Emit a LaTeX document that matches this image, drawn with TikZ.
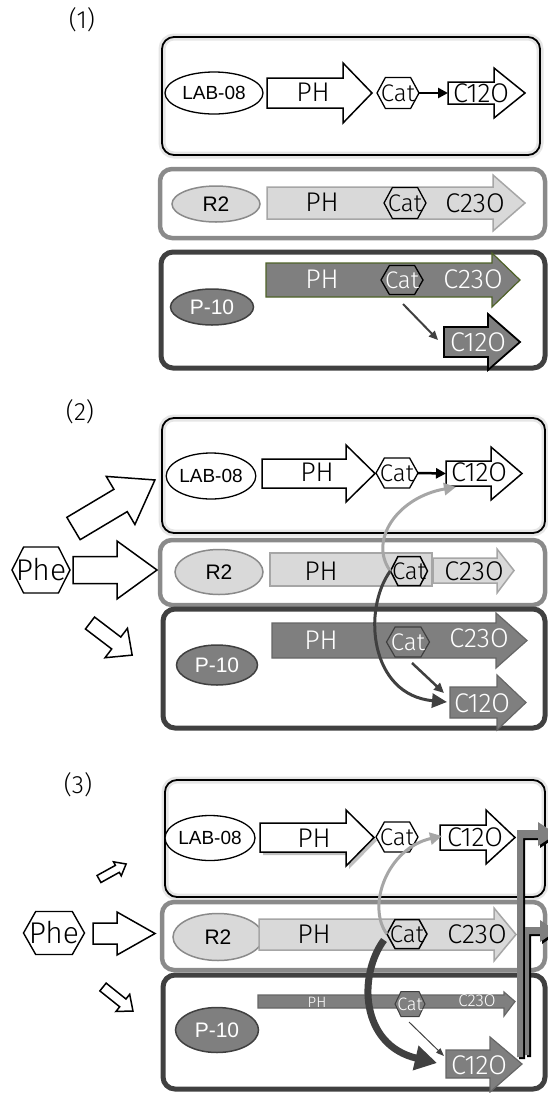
\documentclass[tikz,border=0pt]{standalone}
\usepackage{fontspec}
\newfontfamily\lt{Fira Sans Light}
\newfontfamily\ar{Liberation Sans}
\usetikzlibrary{arrows.meta,shapes.geometric,shadows}
\definecolor{lg}{HTML}{D9D9D9}
\definecolor{mg}{HTML}{A6A6A6}
\definecolor{bg}{HTML}{8A8A8A}
\definecolor{dg}{HTML}{7F7F7F}
\definecolor{vd}{HTML}{404040}
\definecolor{ol}{HTML}{4F6228}
\definecolor{glowc}{HTML}{E6E6E6}
\newcommand{\hexn}[8]{%
 \path[#6] ({#2-#4/2},#3) -- ({#2-0.3*#4},{#3-#5/2}) -- ({#2+0.3*#4},{#3-#5/2}) -- ({#2+#4/2},#3) -- ({#2+0.3*#4},{#3+#5/2}) -- ({#2-0.3*#4},{#3+#5/2}) -- cycle;
 \node[#7, minimum width=#4pt, minimum height=#5pt, inner sep=0pt] (#1) at (#2,#3) {#8};}
\newcommand{\barrow}[8]{%
 \path[#1] (#2,#3) -- (#5,#3) -- (#5,#6) -- (#8,{(#3+#4)/2}) -- (#5,#7) -- (#5,#4) -- (#2,#4) -- cycle;}
\newcommand{\rarrow}[8]{%
 \path[#1, shift={(#2,#3)}, rotate=#4] (0,{-#6/2}) -- ({#5-#8},{-#6/2}) -- ({#5-#8},{-#7/2}) -- (#5,0) -- ({#5-#8},{#7/2}) -- ({#5-#8},{#6/2}) -- (0,{#6/2}) -- cycle;}
\tikzset{
 ptxt/.style={font=\lt\fontsize{25}{25}\selectfont, inner sep=0pt},
 ltxt/.style={font=\lt\fontsize{27}{27}\selectfont, inner sep=0pt},
 ctxt/.style={font=\lt\fontsize{24}{24}\selectfont, inner sep=0pt},
 stxt/.style={font=\lt\fontsize{17}{17}\selectfont, inner sep=0pt, text=white},
 atxt/.style={font=\ar\fontsize{19}{19}\selectfont, inner sep=0pt},
 btxt/.style={font=\ar\fontsize{21}{21}\selectfont, inner sep=0pt},
 labbox/.style={draw=black, line width=1.8, rounded corners=12, preaction={draw=glowc, line width=7}},
 r2box/.style={draw=bg, line width=4.5, rounded corners=12},
 pbox/.style={draw=vd, line width=5, rounded corners=12},
 labell/.style={ellipse, draw=black, line width=1.3, fill=white, inner sep=0pt},
 r2ell/.style={ellipse, draw=bg, line width=1.5, fill=lg, inner sep=0pt},
 pell/.style={ellipse, draw=vd, line width=1.5, fill=dg, inner sep=0pt, text=white},
 wblk/.style={draw=black, fill=white, line width=1.5},
 lblk/.style={draw=mg, fill=lg, line width=1.5},
 dblk/.style={draw=dg!80!black, fill=dg, line width=1.2},
 inarrow/.style={draw=black, fill=white, line width=1.5},
}
\begin{document}
\begin{tikzpicture}[x=1pt,y=-1pt]
\useasboundingbox (0,0) rectangle (548,1093);
%%%%%%%%%%%%%%%% PANEL 1
\node[ptxt] (lbl1) at (82,20) {(1)};
\path[labbox] (162,37) rectangle (540,155);
\path[r2box] (160,169) rectangle (545,238);
\path[pbox] (161,252) rectangle (545,368);
% LAB-08
\node[labell, atxt, minimum width=98pt, minimum height=42pt] (lab1) at (214,93) {LAB-08};
\barrow{wblk}{267}{78}{108}{343}{63}{123}{372}
\node[ltxt] (ph1a) at (313,92) {PH};
\hexn{cat1a}{398}{93}{42}{31}{draw=black, fill=white, line width=1.3}{ctxt}{Cat}
\barrow{wblk}{448}{82}{104}{494}{68}{118}{525}
\coordinate (c1a) at (448,93);
\node[ltxt] (c12t1a) at (481,93) {C12O};
\draw[line width=2.5, -{Triangle[length=10pt,width=10pt]}] (cat1a.east) -- (c1a);
% R2
\node[r2ell, btxt, minimum width=88pt, minimum height=36pt] (r21) at (216,204) {R2};
\barrow{lblk}{267}{187}{219}{493}{175}{231}{525}
\node[ltxt] (ph1b) at (322,202) {PH};
\hexn{cat1b}{405}{203}{42}{31}{draw=black, fill=lg, line width=1.3}{ctxt}{Cat}
\node[ltxt] (c23t1b) at (475,203) {C23O};
% P-10
\node[pell, btxt, text=white, minimum width=83pt, minimum height=36pt] (p101) at (212,307) {P-10};
\barrow{draw=ol, fill=dg, line width=1.2}{266}{263}{297}{492}{253}{307}{520}
\node[ltxt, text=white] (ph1c) at (322,279) {PH};
\hexn{cat1c}{402}{280}{42}{29}{draw=black, fill=dg, line width=1.3}{ctxt, text=white}{Cat}
\node[ltxt, text=white] (c23t1c) at (473,279) {C23O};
\barrow{draw=black, fill=dg, line width=1.8}{444}{327}{357}{488}{314}{370}{520}
\coordinate (c1c) at (438,340);
\node[ltxt, text=white] (c12t1c) at (478,342) {C12O};
\draw[vd, line width=2, -{Triangle[length=9pt,width=8pt]}] (403,304) -- (c1c);
%%%%%%%%%%%%%%%% PANEL 2
\node[ptxt] (lbl2) at (80,412) {(2)};
\path[labbox] (162,418) rectangle (545,533);
\path[r2box] (160,540) rectangle (545,605);
\path[pbox] (163,609) rectangle (545,728);
\hexn{phe2}{41}{570}{58}{46}{draw=black, fill=white, line width=1.4}{ltxt, font=\lt\fontsize{30}{30}\selectfont}{Phe}
\rarrow{inarrow}{73.5}{528.5}{30.8}{94.8}{26}{56}{40}
\rarrow{inarrow}{73}{570}{0}{84}{27}{58}{40}
\rarrow{inarrow}{90}{623}{-37.3}{53}{15}{37}{20}
% LAB-08
\node[labell, atxt, minimum width=88pt, minimum height=46pt] (lab2) at (211,476) {LAB-08};
\barrow{wblk}{262}{459}{488}{346}{445}{502}{375}
\node[ltxt] (ph2a) at (317,472) {PH};
\hexn{cat2a}{397}{473}{42}{30}{draw=black, fill=white, line width=1.3}{ctxt}{Cat}
\barrow{wblk}{446}{461}{486}{491}{447}{500}{522}
\coordinate (c2a) at (446,473.5);
\node[ltxt] (c12t2a) at (479,472) {C12O};
\draw[line width=2.5, -{Triangle[length=10pt,width=10pt]}] (cat2a.east) -- (c2a);
% R2
\node[r2ell, btxt, minimum width=88pt, minimum height=45pt] (r22) at (219,572) {R2};
\path[lblk] (270,553) rectangle (432,586);
\barrow{lblk}{433}{558}{583}{497}{549}{593}{514}
\node[ltxt] (ph2b) at (321,571) {PH};
\hexn{cat2b}{409}{571}{37}{29}{draw=black, fill=lg, line width=1.5}{ctxt}{Cat}
\node[ltxt] (c23t2b) at (474,571) {C23O};
% P-10
\node[pell, btxt, text=white, minimum width=81pt, minimum height=40pt] (p102) at (217,665) {P-10};
\barrow{dblk}{272}{623}{658}{496}{613}{668}{527}
\node[ltxt, text=white] (ph2c) at (321,640) {PH};
\hexn{cat2c}{408}{642}{43}{30}{draw=vd, fill=dg, line width=1.2}{ctxt, text=white}{Cat}
\node[ltxt, text=white] (c23t2c) at (479,638) {C23O};
\barrow{dblk}{450}{687}{718}{497}{675}{730}{526}
\coordinate (c2c) at (444,693);
\coordinate (c2d) at (447,702);
\coordinate (c2e) at (456,487);
\node[ltxt, text=white] (c12t2c) at (482,703) {C12O};
\draw[vd, line width=2.5, -{Triangle[length=10pt,width=9pt]}] (412,663) -- (c2c);
% curves
\draw[mg, line width=3, -{Triangle[length=12pt,width=12pt]}] (cat2b.west) .. controls (368,540) and (398,497) .. (c2e);
\draw[vd, line width=3, -{Triangle[length=15pt,width=14pt]}] (cat2b.west) .. controls (362,610) and (370,695) .. (c2d);
%%%%%%%%%%%%%%%% PANEL 3
\node[ptxt] (lbl3) at (78,785) {(3)};
\path[labbox] (165,780) rectangle (545,897);
\path[r2box] (162,902) rectangle (545,970);
\path[pbox] (163,975) rectangle (545,1089);
\hexn{phe3}{54}{933}{61}{43}{draw=black, fill=white, line width=1.4}{ltxt, font=\lt\fontsize{30}{30}\selectfont}{Phe}
\rarrow{inarrow}{99}{879}{29}{31}{8}{16}{10}
\rarrow{inarrow}{93}{933.5}{0}{62}{21}{43}{38}
\rarrow{inarrow}{103}{987}{-38.7}{38.4}{10}{22}{13}
% LAB-08
\node[labell, atxt, minimum width=90pt, minimum height=45pt] (lab3) at (210,838) {LAB-08};
\barrow{wblk, drop shadow={shadow xshift=3pt, shadow yshift=-3pt, fill=black, opacity=0.25}}{260}{823}{852}{346}{810}{866}{374}
\node[ltxt] (ph3a) at (314,838) {PH};
\hexn{cat3a}{397}{837}{42}{30}{draw=black, fill=white, line width=1.3}{ctxt}{Cat}
\barrow{wblk}{440}{825}{850}{486}{810}{864}{515}
\coordinate (c3a) at (442,836);
\node[ltxt] (c12t3a) at (475,837) {C12O};
% R2
\node[r2ell, btxt, minimum width=90pt, minimum height=47pt] (r23) at (218,937) {R2};
\barrow{lblk}{259}{919}{950}{494}{908}{961}{516}
\node[ltxt] (ph3b) at (314,934) {PH};
\hexn{cat3b}{407}{934}{40}{29}{draw=black, fill=lg, line width=1.5}{ctxt}{Cat}
\node[ltxt] (c23t3b) at (477,934) {C23O};
% P-10
\node[pell, btxt, text=white, minimum width=83pt, minimum height=45pt] (p103) at (217,1030) {P-10};
\barrow{dblk}{258}{995}{1008}{504}{992}{1016}{515}
\node[stxt, font=\lt\fontsize{15}{15}\selectfont] (ph3c) at (317,1002) {PH};
\hexn{cat3c}{410}{1004}{30}{25}{draw=vd, fill=dg, line width=1}{stxt, font=\lt\fontsize{18}{18}\selectfont}{Cat}
\node[stxt] (c23t3c) at (477,1001) {C23O};
\barrow{dblk}{446}{1050}{1078}{490}{1037}{1092}{522}
\coordinate (c3c) at (444,1056);
\coordinate (c3d) at (437,1063);
\node[ltxt, text=white] (c12t3c) at (479,1065) {C12O};
\draw[vd, line width=1, -{Triangle[length=8pt,width=6pt]}] (409,1022) -- (c3c);
% bent arrows
\fill[black] (519,832) -- (540,832) -- (540,824) -- (558,836) -- (540,848) -- (540,840) -- (525,840) -- (525,1059) -- (519,1059) -- cycle;
\fill[dg] (517,830) -- (538,830) -- (538,822) -- (556,834) -- (538,846) -- (538,838) -- (523,838) -- (523,1057) -- (517,1057) -- cycle;
\fill[black] (527,929) -- (542,929) -- (542,922) -- (558,933) -- (542,944) -- (542,936) -- (531,936) -- (531,1057) -- (527,1057) -- cycle;
\fill[dg] (525,927) -- (540,927) -- (540,920) -- (556,931) -- (540,942) -- (540,934) -- (529,934) -- (529,1055) -- (525,1055) -- cycle;
% curves
\draw[mg, line width=3, -{Triangle[length=12pt,width=12pt]}] (cat3b.west) .. controls (366,905) and (388,848) .. (c3a);
\draw[vd, line width=7, -{Triangle[length=22pt,width=24pt]}] (384,940) .. controls (358,975) and (360,1045) .. (c3d);
\end{tikzpicture}
\end{document}
